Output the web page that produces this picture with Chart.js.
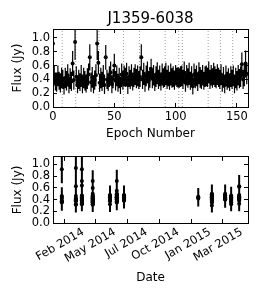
<!DOCTYPE html>
<html><head><meta charset="utf-8">
<script src="https://cdn.jsdelivr.net/npm/chart.js@4/dist/chart.umd.min.js"></script>
<style>
html,body{margin:0;padding:0;background:#fff;width:263px;height:300px;overflow:hidden}
canvas{position:absolute;left:0}
#c1{top:0}
#c2{top:143px}
</style></head><body>
<canvas id="c1" width="263" height="143"></canvas>
<canvas id="c2" width="263" height="157"></canvas>
<script>
const chartTitle = 'J1359-6038';
const flux = [
 0.92,0.46,0.37,0.36,0.45,0.38,0.35,0.42,
 0.40,0.31,0.42,0.38,0.46,0.32,0.41,0.37,0.63,0.39,0.94,
 0.44,0.33,0.40,0.36,0.45,0.32,0.42,0.38,0.34,0.41,0.47,0.72,0.36,0.43,0.33,0.39,0.46,0.92,0.64,
 0.35,0.42,0.37,0.45,0.32,0.72,0.40,0.36,0.44,0.50,0.33,0.41,0.60,0.38,0.45,0.35,0.42,0.31,0.47,0.39,
 0.45,0.43,0.48,0.32,0.44,0.40,0.46,0.37,0.43,0.47,0.41,0.45,0.39,
 0.44,0.72,0.40,0.48,0.35,0.45,0.50,0.38,0.43,0.55,0.41,0.46,0.36,0.44,0.49,0.40,0.45,0.37,0.47,0.42,
 0.44,0.48,0.40,0.45,0.38,0.47,0.42,0.44,0.39,0.46,0.43,
 0.43,0.42,0.44,
 0.45,0.40,0.50,0.35,0.46,0.42,0.48,0.38,0.44,0.30,0.47,0.41,0.45,0.36,0.49,0.43,0.40,0.46,0.38,0.44,
 0.45,0.43,0.50,0.40,0.46,0.42,0.48,0.44,0.41,0.47,0.43,
 0.40,0.47,0.35,0.43,0.32,0.45,0.38,0.42,0.36,0.44,
 0.40,0.45,0.33,0.42,0.38,0.46,0.41,0.44,0.62,0.40,0.45,0.63,0.48
];
const fluxErr = [
 0.24,0.15,0.13,0.14,0.15,0.13,0.14,0.15,
 0.14,0.13,0.15,0.14,0.16,0.12,0.15,0.14,0.18,0.14,0.26,
 0.15,0.13,0.14,0.13,0.16,0.12,0.15,0.14,0.13,0.15,0.16,0.19,0.14,0.15,0.13,0.14,0.16,0.24,0.17,
 0.13,0.15,0.14,0.16,0.13,0.18,0.14,0.13,0.15,0.16,0.13,0.14,0.17,0.14,0.15,0.13,0.15,0.12,0.16,0.14,
 0.15,0.14,0.16,0.13,0.15,0.14,0.16,0.13,0.14,0.15,0.14,0.15,0.13,
 0.15,0.19,0.14,0.16,0.13,0.15,0.16,0.14,0.15,0.15,0.14,0.15,0.13,0.15,0.16,0.14,0.15,0.13,0.16,0.14,
 0.15,0.16,0.14,0.15,0.13,0.16,0.14,0.15,0.14,0.15,0.14,
 0.15,0.14,0.15,
 0.15,0.14,0.16,0.13,0.15,0.14,0.16,0.13,0.15,0.12,0.16,0.14,0.15,0.13,0.16,0.15,0.14,0.15,0.13,0.15,
 0.15,0.14,0.16,0.14,0.15,0.14,0.16,0.15,0.14,0.15,0.14,
 0.14,0.15,0.13,0.15,0.12,0.15,0.13,0.14,0.13,0.15,
 0.14,0.15,0.13,0.15,0.14,0.15,0.14,0.15,0.17,0.14,0.15,0.19,0.15
];
const epochBoundaries = [7.5,18.5,37.5,57.5,70.5,91.5,102.5,105.5,126.5,136.5,146.5];
const clusterDays = [-6,29,44,71,114,131,149,334,368,401,416,436];
const epochTicks = [0,50,100,150];
const fluxTicks = [0,0.2,0.4,0.6,0.8,1.0];
const dateTickDays = [0,79,158,237,316,395];
const dateTickLabels = ['Feb 2014','May 2014','Jul 2014','Oct 2014','Jan 2015','Mar 2015'];
const epochRange = [0,159];
const dayRange = [-28,458];
const fluxRange = [0,1.13];

Chart.defaults.font.family = "'DejaVu Sans', sans-serif";
Chart.defaults.color = '#000';
Chart.defaults.animation = false;

function clusterOf(e){ let c=0; for(const b of epochBoundaries){ if(e>b) c++; } return c; }

const epochX = flux.map((f,i)=>i);
const dateX = flux.map((f,i)=>clusterDays[clusterOf(i)]);

function markers(xs){ return xs.map((x,i)=>({x:x,y:flux[i]})); }
function errBars(xs){ const d=[]; xs.forEach((x,i)=>{ d.push({x:x,y:flux[i]-fluxErr[i]},{x:x,y:flux[i]+fluxErr[i]},{x:x,y:null}); }); return d; }
function dotted(){ const d=[]; epochBoundaries.forEach(b=>{ d.push({x:b,y:fluxRange[0]},{x:b,y:fluxRange[1]},{x:b,y:null}); }); return d; }

function gridOpts(){ return {display:true, drawOnChartArea:false, drawTicks:true, tickLength:-4, color:'#000', lineWidth:1}; }
function borderOpts(){ return {display:true, color:'#000', width:1}; }
function setTicks(vals){ return s=>{ s.ticks = vals.map(v=>({value:v})); }; }
const tickFont = {size:11.5};

function yAxes(){
  return {
    y:{type:'linear', position:'left', min:fluxRange[0], max:fluxRange[1],
       afterBuildTicks:setTicks(fluxTicks),
       grid:gridOpts(), border:borderOpts(),
       ticks:{font:tickFont, color:'#000', padding:7, autoSkip:false, callback:v=>v.toFixed(1)},
       title:{display:true, text:'Flux (Jy)', font:{size:12}, color:'#000', padding:{top:10.5,bottom:0}},
       afterFit:s=>{s.width=53;}},
    y2:{type:'linear', position:'right', min:fluxRange[0], max:fluxRange[1],
       afterBuildTicks:setTicks(fluxTicks),
       grid:gridOpts(), border:borderOpts(),
       ticks:{display:false, autoSkip:false},
       afterFit:s=>{s.width=0;}}
  };
}

function datasets(xs, barWidth, r){
  return [
    {data:markers(xs), showLine:false, pointRadius:r, pointBackgroundColor:'#000', pointBorderWidth:0, pointStyle:'circle'},
    {data:errBars(xs), showLine:true, borderColor:'#000', borderWidth:barWidth, pointRadius:0, spanGaps:false}
  ];
}

const common = {responsive:false, devicePixelRatio:1, animation:false,
  plugins:{legend:{display:false}, tooltip:{enabled:false}}};

const ds1 = datasets(epochX, 1.2, 2);
ds1.push({data:dotted(), showLine:true, borderColor:'rgba(120,120,120,0.7)', borderWidth:1, borderDash:[1,2], pointRadius:0, spanGaps:false});

new Chart(document.getElementById('c1'), {
  type:'scatter',
  data:{datasets:ds1},
  options:Object.assign({}, common, {
    layout:{padding:{left:0,right:15,top:0,bottom:0}},
    scales:Object.assign({
      x:{type:'linear', position:'bottom', min:epochRange[0], max:epochRange[1],
         afterBuildTicks:setTicks(epochTicks),
         grid:gridOpts(), border:borderOpts(),
         ticks:{font:tickFont, color:'#000', padding:7, maxRotation:0, autoSkip:false, callback:v=>String(v)},
         title:{display:true, text:'Epoch Number', font:{size:12}, color:'#000', padding:{top:0,bottom:2}},
         afterFit:s=>{s.height=36;}},
      x2:{type:'linear', position:'top', min:epochRange[0], max:epochRange[1],
         afterBuildTicks:setTicks(epochTicks),
         grid:gridOpts(), border:borderOpts(),
         ticks:{display:false, autoSkip:false},
         title:{display:true, text:chartTitle, font:{size:15}, color:'#000', padding:{top:9.8,bottom:0}},
         afterFit:s=>{s.height=29;}}
    }, yAxes())
  })
});

new Chart(document.getElementById('c2'), {
  type:'scatter',
  data:{datasets:datasets(dateX, 2, 2)},
  options:Object.assign({}, common, {
    layout:{padding:{left:0,right:15,top:0,bottom:0}},
    scales:Object.assign({
      x:{type:'linear', position:'bottom', min:dayRange[0], max:dayRange[1],
         afterBuildTicks:setTicks(dateTickDays),
         grid:gridOpts(), border:borderOpts(),
         ticks:{font:tickFont, color:'#000', padding:6.4, minRotation:30, maxRotation:30, autoSkip:false, labelOffset:19,
                callback:(v,i)=>dateTickLabels[i]},
         title:{display:true, text:'Date', font:{size:12}, color:'#000', padding:{top:0,bottom:14.8}},
         afterFit:s=>{s.height=77;}},
      x2:{type:'linear', position:'top', min:dayRange[0], max:dayRange[1],
         afterBuildTicks:setTicks(dateTickDays),
         grid:gridOpts(), border:borderOpts(),
         ticks:{display:false, autoSkip:false},
         afterFit:s=>{s.height=3;}}
    }, yAxes())
  })
});
</script>
</body></html>
